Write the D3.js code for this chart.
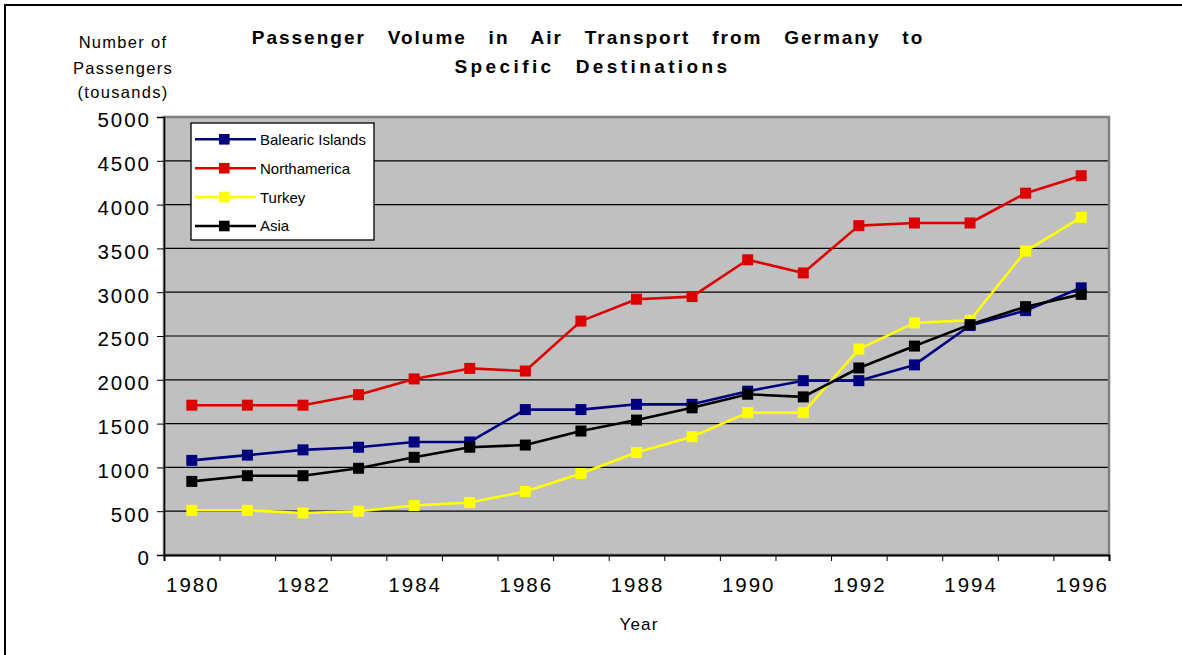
<!DOCTYPE html>
<html>
<head>
<meta charset="utf-8">
<script src="https://cdn.jsdelivr.net/npm/d3@7"></script>
<style>
  html, body { margin: 0; padding: 0; background: #ffffff; }
  svg { display: block; font-family: Arial, "Liberation Sans", sans-serif; }
</style>
</head>
<body>
<svg id="chart" width="1182" height="655"></svg>
<script>
// ---- data ----
const years = [1980,1981,1982,1983,1984,1985,1986,1987,1988,1989,1990,1991,1992,1993,1994,1995,1996];
const balearic    = [1080,1140,1200,1230,1290,1290,1660,1660,1720,1720,1870,1990,1990,2170,2620,2790,3050];
const northamerica= [1710,1710,1710,1830,2010,2130,2100,2670,2920,2950,3370,3220,3760,3790,3790,4130,4330];
const turkey      = [510,510,480,500,565,600,725,930,1170,1350,1625,1625,2350,2650,2680,3470,3855];
const asia        = [840,905,905,990,1115,1230,1255,1415,1540,1680,1835,1805,2135,2385,2630,2835,2975];
const seriesNames = ["Balearic Islands","Northamerica","Turkey","Asia"];
const seriesColors= ["#000080","#dd0000","#ffff00","#000000"];
const yTicks = [0,500,1000,1500,2000,2500,3000,3500,4000,4500,5000];
const titleLines = ["Passenger Volume in Air Transport from Germany to", "Specific Destinations"];
const yTitleLines = ["Number of","Passengers","(tousands)"];
const xTitle = "Year";

const seriesValues = [balearic, northamerica, turkey, asia];

const svg = d3.select("#chart");
const FONT = "Arial, 'Liberation Sans', sans-serif";

// outer frame
svg.append("rect").attr("x",5).attr("y",5).attr("width",1200).attr("height",700)
  .attr("fill","none").attr("stroke","#000").attr("stroke-width",2);

const plot = {left:164, right:1109, top:117, bottom:555};

const x = d3.scaleBand().domain(years).range([plot.left, plot.right]).paddingInner(0).paddingOuter(0);
const xb = d3.scaleLinear().domain([0, years.length]).range([plot.left, plot.right]);
const y = d3.scaleLinear().domain([0,5000]).range([plot.bottom, plot.top]);

// plot background
svg.append("rect").attr("x",plot.left).attr("y",plot.top)
  .attr("width",plot.right-plot.left).attr("height",plot.bottom-plot.top)
  .attr("fill","#c0c0c0");

// gridlines
svg.append("g").selectAll("line").data(yTicks.filter(d => d>0 && d<5000)).join("line")
  .attr("x1",plot.left).attr("x2",plot.right)
  .attr("y1",d=>y(d)).attr("y2",d=>y(d))
  .attr("stroke","#000").attr("stroke-width",1.2);

// plot border
svg.append("rect").attr("x",plot.left).attr("y",plot.top)
  .attr("width",plot.right-plot.left).attr("height",plot.bottom-plot.top)
  .attr("fill","none").attr("stroke","#808080").attr("stroke-width",2.5);

// y axis
const yAxis = svg.append("g").attr("transform",`translate(${plot.left},0)`)
  .call(d3.axisLeft(y).tickValues(yTicks).tickSize(7).tickPadding(6).tickFormat(d3.format("d")));
yAxis.select(".domain").attr("stroke","#000").attr("stroke-width",1.5);
yAxis.selectAll(".tick line").attr("stroke","#000");
yAxis.selectAll("text").attr("font-size",20.5).attr("fill","#000")
  .attr("font-family",FONT)
  .attr("letter-spacing","2px").attr("dy","0.48em");

// x axis tick marks at category boundaries
const xTickAxis = svg.append("g").attr("transform",`translate(0,${plot.bottom})`)
  .call(d3.axisBottom(xb).tickValues(d3.range(0, years.length+1)).tickSize(6).tickFormat(""));
xTickAxis.select(".domain").attr("stroke","#000").attr("stroke-width",2);
xTickAxis.selectAll(".tick line").attr("stroke","#000");

// x labels every other year
const xLabAxis = svg.append("g").attr("transform",`translate(0,${plot.bottom})`)
  .call(d3.axisBottom(x).tickValues(years.filter(d => d%2===0)).tickSize(0).tickPadding(22));
xLabAxis.select(".domain").remove();
xLabAxis.selectAll("text").attr("font-size",20.5).attr("fill","#000")
  .attr("font-family",FONT)
  .attr("letter-spacing","2px").attr("dx","1px");

// lines & markers
const cx = d => x(d) + x.bandwidth()/2;
const line = d3.line().x((d,i)=>cx(years[i])).y(d=>y(d));
seriesValues.forEach((vals,k) => {
  const g = svg.append("g");
  g.append("path").datum(vals).attr("d",line).attr("fill","none")
    .attr("stroke",seriesColors[k]).attr("stroke-width",2.6).attr("stroke-linejoin","round");
  g.selectAll("rect").data(vals).join("rect")
    .attr("x",(d,i)=>cx(years[i])-5.5).attr("y",d=>y(d)-5.5)
    .attr("width",11).attr("height",11).attr("fill",seriesColors[k]);
});

// legend
const lg = svg.append("g");
lg.append("rect").attr("x",191).attr("y",123).attr("width",183).attr("height",117)
  .attr("fill","#fff").attr("stroke","#000").attr("stroke-width",1.3);
const legY = d3.scalePoint().domain(seriesNames).range([139.3, 226]);
seriesNames.forEach((n,k) => {
  const yy = legY(n);
  lg.append("line").attr("x1",195).attr("x2",256).attr("y1",yy).attr("y2",yy)
    .attr("stroke",seriesColors[k]).attr("stroke-width",2.6);
  lg.append("rect").attr("x",224.3-5.3).attr("y",yy-5.3).attr("width",10.6).attr("height",10.6)
    .attr("fill",seriesColors[k]);
  lg.append("text").attr("x",260).attr("y",yy+5.4).attr("font-size",15).attr("fill","#000")
    .text(n);
});

// title
const titleStyle = [
  {x:588,   y:44, ls:"2px",   ws:"14.5px"},
  {x:592.5, y:73, ls:"3.4px", ws:"12.5px"}
];
svg.append("g").selectAll("text").data(titleLines).join("text")
  .attr("x",(d,i)=>titleStyle[i].x).attr("y",(d,i)=>titleStyle[i].y)
  .attr("text-anchor","middle").attr("font-weight","bold").attr("font-size",19)
  .attr("letter-spacing",(d,i)=>titleStyle[i].ls).attr("word-spacing",(d,i)=>titleStyle[i].ws)
  .attr("fill","#000")
  .text(d=>d);

// y axis title
svg.append("g").selectAll("text").data(yTitleLines).join("text")
  .attr("x",123).attr("y",(d,i)=>[48,74,98][i])
  .attr("text-anchor","middle").attr("font-size",16.5).attr("letter-spacing","1.3px").attr("fill","#000")
  .text(d=>d);

// x axis title
svg.append("text").attr("x",639).attr("y",630).attr("text-anchor","middle")
  .attr("font-size",17).attr("letter-spacing","1.2px").attr("fill","#000").text(xTitle);
</script>
</body>
</html>
